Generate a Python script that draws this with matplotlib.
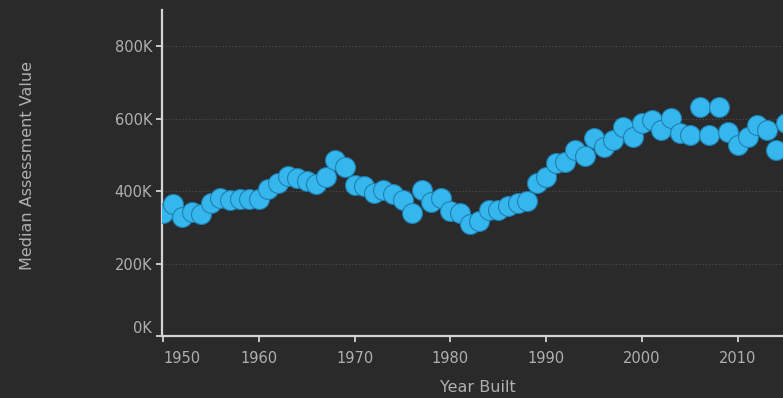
import matplotlib
matplotlib.use("Agg")
import matplotlib.pyplot as plt
from matplotlib.ticker import FuncFormatter

years = list(range(1950, 2016))
values = [
    340, 364, 328, 342, 337, 367, 381, 375, 378, 378,   # 1950-1959
    378, 405, 422, 441, 436, 428, 419, 439, 486, 466,   # 1960-1969
    417, 414, 394, 403, 392, 375, 339, 403, 370, 381,   # 1970-1979
    345, 339, 309, 317, 348, 348, 359, 367, 372, 422,   # 1980-1989
    439, 477, 480, 513, 497, 546, 521, 541, 577, 549,   # 1990-1999
    588, 596, 568, 601, 560, 554, 632, 554, 632, 563,   # 2000-2009
    527, 549, 582, 568, 513, 588,                       # 2010-2015
]
values = [v * 1000 for v in values]

y_ticks = [0, 200000, 400000, 600000, 800000]
x_ticks = [1950, 1960, 1970, 1980, 1990, 2000, 2010]

BG = "#2a2a2a"
TXT = "#b0b0b0"
AX = "#d4d4d4"

plt.rcParams['font.family'] = ['DejaVu Sans']

fig = plt.figure(figsize=(7.83, 3.98), dpi=100, facecolor=BG)
W, H = 783, 398
x0, x1 = 162, 783
y0, y1 = 336, 10
ax = fig.add_axes([x0 / W, (H - y0) / H, (x1 - x0) / W, (y0 - y1) / H])
ax.set_facecolor(BG)

ax.scatter(years, values, s=205, color="#35b6ec", edgecolor="#1f7fb0",
           linewidth=0.8, zorder=3)

ax.set_xlim(1949.9, 2014.7)
ax.set_ylim(0, 900000)

ax.set_yticks(y_ticks)
ax.set_xticks(x_ticks)
ax.yaxis.set_major_formatter(FuncFormatter(lambda v, p: f"{int(v/1000)}K"))

for y in y_ticks[1:]:
    ax.axhline(y, color="#505050", linestyle=(0, (1, 2)), linewidth=0.8, zorder=1)

for s in ["top", "right"]:
    ax.spines[s].set_visible(False)
for s in ["left", "bottom"]:
    ax.spines[s].set_color(AX)
    ax.spines[s].set_linewidth(1.6)

ax.tick_params(axis="both", colors=AX, labelcolor=TXT, labelsize=10.5,
               length=4, width=1.3)
ax.tick_params(axis="x", pad=7)
ax.tick_params(axis="y", pad=3)

for lbl in ax.get_xticklabels():
    if lbl.get_text() == "1950":
        lbl.set_horizontalalignment("left")
for lbl in ax.get_yticklabels():
    if lbl.get_text() == "0K":
        lbl.set_verticalalignment("bottom")

fig.text(28 / W, 1 - 166 / H, "Median Assessment Value", rotation=90,
         ha="center", va="center", color=TXT, fontsize=11.5)
fig.text(478 / W, 1 - 387 / H, "Year Built", ha="center", va="center",
         color=TXT, fontsize=11.5)

fig.savefig("out.png", dpi=100, facecolor=BG)
